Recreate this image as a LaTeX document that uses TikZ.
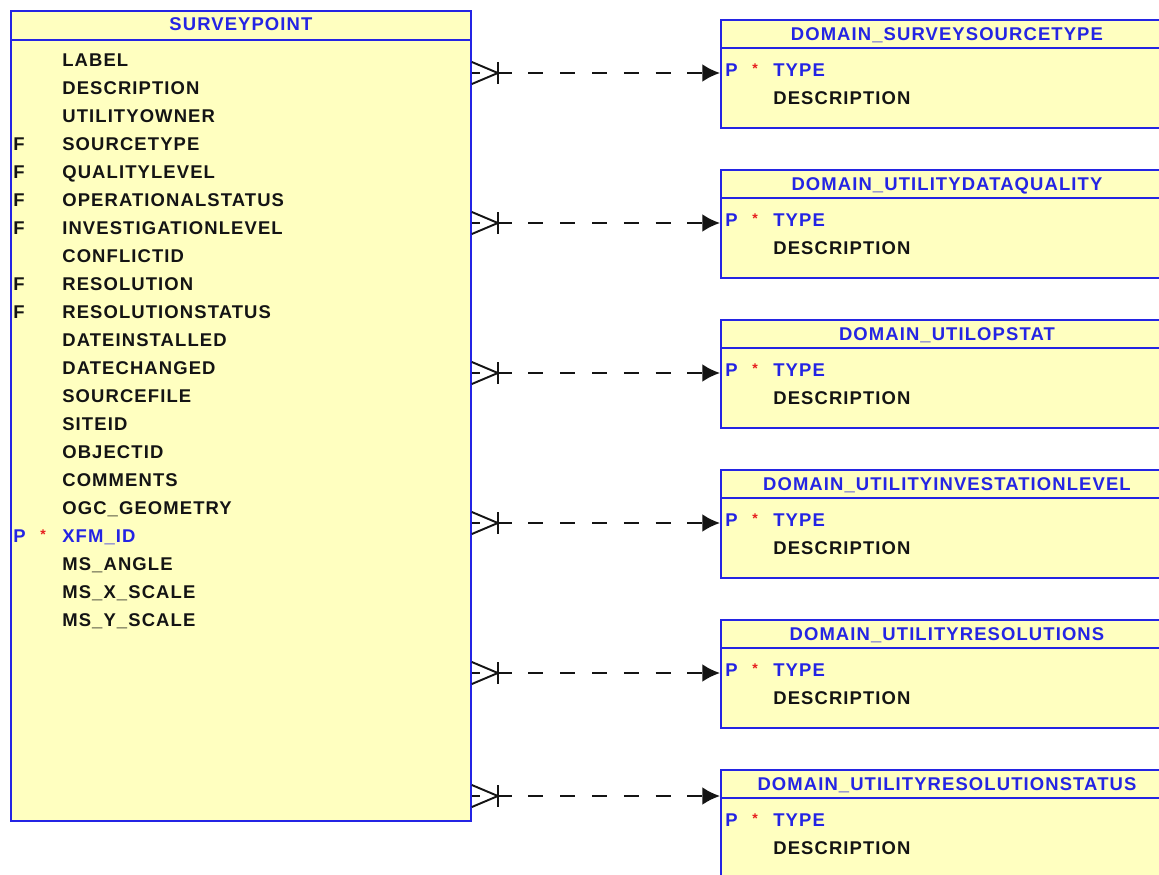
\documentclass[tikz,border=0pt]{standalone}
\usepackage{fontspec}
\usetikzlibrary{arrows.meta,positioning,calc}
\newfontfamily\erfont{Liberation Sans}[LetterSpace=6]
\definecolor{ERFill}{RGB}{255,255,192}
\definecolor{ERBlue}{RGB}{36,36,228}
\definecolor{ERInk}{RGB}{20,20,20}
\definecolor{ERStar}{RGB}{230,30,30}

\begin{document}
\begin{tikzpicture}[x=0.02cm,y=-0.02cm,
    tablebox/.style={draw=ERBlue,line width=1.1pt,fill=ERFill,anchor=north west,inner sep=0pt},
    field/.style={anchor=west,inner sep=0pt,text height=7.5pt,text depth=0pt,
      font=\erfont\bfseries\fontsize{10.5}{12}\selectfont,text=ERInk},
    keyfield/.style={field,text=ERBlue},
    tabletitle/.style={field,anchor=center,text=ERBlue},
    pkstar/.style={anchor=base,inner sep=0pt,text=ERStar,font=\erfont\bfseries\fontsize{8}{8}\selectfont},
    relation/.style={line width=1.1pt,draw=ERInk,dash pattern=on 8.5pt off 9.6pt,dash phase=4pt,
      -{Latex[length=10pt,width=10pt]}},
    crowfoot/.style={line width=1.1pt,draw=ERInk}]
  \useasboundingbox (0,0) rectangle (1159,875);

  % surveypoint table
  \node[tablebox,minimum width=9.2cm,minimum height=16.2cm] (sp) at (10,10) {};
  \draw[ERBlue,line width=1.1pt] ($(sp.north west)+(0,30)$) -- ($(sp.north east)+(0,30)$);
  \node[tabletitle] (sp-t) at ($(sp.north)+(0,14)$) {SURVEYPOINT};
  \foreach \fl/\col [count=\i] in {{}/LABEL,{}/DESCRIPTION,{}/UTILITYOWNER,F/SOURCETYPE,
      F/QUALITYLEVEL,F/OPERATIONALSTATUS,F/INVESTIGATIONLEVEL,{}/CONFLICTID,F/RESOLUTION,
      F/RESOLUTIONSTATUS,{}/DATEINSTALLED,{}/DATECHANGED,{}/SOURCEFILE,{}/SITEID,{}/OBJECTID,
      {}/COMMENTS,{}/OGC\_GEOMETRY,\textcolor{ERBlue}{P}/\textcolor{ERBlue}{XFM\_ID},
      {}/MS\_ANGLE,{}/MS\_X\_SCALE,{}/MS\_Y\_SCALE} {
    \node[field] (sp-k\i) at (13,{60+28*(\i-1)}) {\fl};
    \node[field] (sp-f\i) at (62,{60+28*(\i-1)}) {\col};
  }
  \node[pkstar] (sp-s18) at (43,539) {*};

  % domain tables
  \foreach \nm/\ttl [count=\k] in {dsst/DOMAIN\_SURVEYSOURCETYPE,dudq/DOMAIN\_UTILITYDATAQUALITY,
      duos/DOMAIN\_UTILOPSTAT,duil/DOMAIN\_UTILITYINVESTATIONLEVEL,
      dures/DOMAIN\_UTILITYRESOLUTIONS,durs/DOMAIN\_UTILITYRESOLUTIONSTATUS} {
    \node[tablebox,minimum width=9.04cm,minimum height=2.16cm] (\nm) at (720,{19+150*(\k-1)}) {};
    \draw[ERBlue,line width=1.1pt] ($(\nm.north west)+(0,29)$) -- ($(\nm.north east)+(0,29)$);
    \node[tabletitle] (\nm-t) at ($(\nm.north)+(0,15)$) {\ttl};
    \node[keyfield] (\nm-k1) at ($(\nm.north west)+(5,51)$) {P};
    \node[pkstar] (\nm-s1) at ($(\nm.north west)+(35,54)$) {*};
    \node[keyfield] (\nm-f1) at ($(\nm.north west)+(53,51)$) {TYPE};
    \node[field] (\nm-f2) at ($(\nm.north west)+(53,79)$) {DESCRIPTION};
  }

  % relations
  \foreach \nm/\dy in {dsst/54,dudq/54,duos/54,duil/54,dures/54,durs/27} {
    \coordinate (\nm-in) at ($(\nm.north west)+(0,\dy)$);
    \coordinate (\nm-out) at (sp.east |- \nm-in);
    \draw[relation] (\nm-out) -- (\nm-in);
    \draw[crowfoot] ($(\nm-out)+(0,-11)$) -- ($(\nm-out)+(26,0)$) -- ($(\nm-out)+(0,11)$);
    \draw[crowfoot] ($(\nm-out)+(26,-11)$) -- ($(\nm-out)+(26,11)$);
  }
\end{tikzpicture}
\end{document}
